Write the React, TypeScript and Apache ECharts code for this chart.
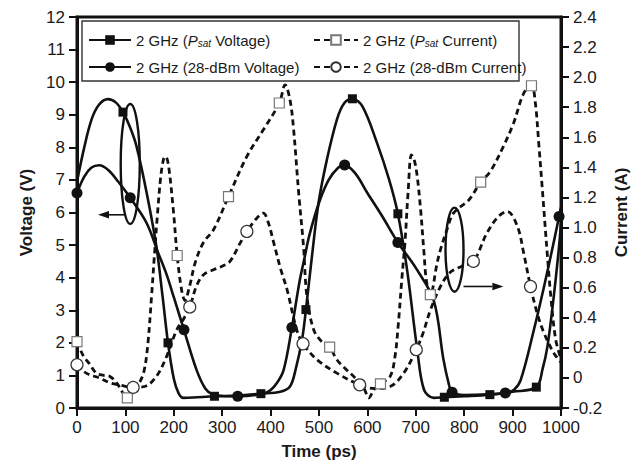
import React, { useEffect, useRef } from 'react';
import * as echarts from 'echarts';

const FONT = "'Liberation Sans', Arial, Helvetica, sans-serif";
const INK = '#111';

// ---- axis ticks ----
const timeTicks = { min: 0, max: 1000, interval: 100 };
const voltTicks = { min: 0, max: 12, interval: 1 };
const currTicks = { min: -0.2, max: 2.4, interval: 0.2 };

// ---- series names ----
const nPsatV = '2 GHz (Psat Voltage)';
const n28V = '2 GHz (28-dBm Voltage)';
const nPsatI = '2 GHz (Psat Current)';
const n28I = '2 GHz (28-dBm Current)';

// ---- Psat voltage (V) ----
const psatVoltageT = [0, 15, 30, 45, 64, 80, 95, 110, 123, 144, 164, 177, 188, 200, 210, 220, 240, 284, 330, 380, 420, 440, 452, 465, 473, 485, 499, 516, 537, 552, 569, 590, 620, 645, 663, 682, 703, 717, 737, 759, 800, 853, 900, 949, 962, 972, 985, 996, 1000];
const psatVoltage = [6.95, 8.0, 8.85, 9.3, 9.48, 9.38, 9.08, 8.6, 8.03, 6.6, 4.96, 3.4, 2.0, 0.9, 0.45, 0.31, 0.32, 0.36, 0.38, 0.44, 0.5, 0.66, 1.2, 2.1, 3.02, 4.6, 6.29, 7.6, 8.85, 9.35, 9.49, 9.25, 8.13, 7.0, 5.96, 4.24, 1.79, 0.56, 0.31, 0.33, 0.36, 0.41, 0.5, 0.64, 1.2, 1.89, 3.42, 4.96, 5.7];
const psatVoltageMarkT = [95, 188, 284, 380, 473, 569, 663, 759, 853, 949];
const psatVoltageMark = [9.08, 2.0, 0.36, 0.44, 3.02, 9.49, 5.96, 0.33, 0.41, 0.64];

// ---- 28-dBm voltage (V) ----
const dbm28VoltageT = [0, 15, 30, 46, 65, 85, 110, 144, 168, 185, 200, 221, 247, 265, 280, 300, 332, 370, 395, 413, 427, 444, 460, 470, 480, 500, 520, 540, 553, 575, 600, 630, 663, 700, 737, 757, 768, 775, 800, 850, 885, 903, 917, 944, 965, 986, 996, 1000];
const dbm28Voltage = [6.6, 7.1, 7.38, 7.45, 7.3, 6.95, 6.45, 5.67, 4.75, 4.1, 3.4, 2.4, 1.17, 0.6, 0.42, 0.37, 0.36, 0.4, 0.5, 0.77, 1.17, 2.47, 3.9, 4.6, 5.3, 6.3, 7.0, 7.38, 7.46, 7.2, 6.6, 5.9, 5.08, 4.3, 3.3, 1.5, 0.75, 0.48, 0.4, 0.42, 0.46, 0.56, 0.87, 2.4, 3.73, 5.16, 5.88, 6.15];
const dbm28VoltageMarkT = [0, 110, 221, 332, 444, 553, 663, 775, 885, 996];
const dbm28VoltageMark = [6.6, 6.45, 2.4, 0.36, 2.47, 7.46, 5.08, 0.48, 0.46, 5.88];

// ---- Psat current (A) ----
const psatCurrentT = [0, 13, 26, 40, 55, 68, 82, 95, 104, 115, 128, 138, 146, 154, 160, 166, 173, 179, 183, 189, 199, 207, 216, 223, 232, 245, 262, 282, 313, 351, 385, 418, 430, 440, 447, 458, 468, 475, 489, 505, 522, 537, 555, 575, 593, 603, 613, 627, 647, 657, 664, 671, 678, 684, 691, 697, 703, 710, 717, 722, 730, 744, 751, 765, 778, 810, 834, 854, 881, 902, 923, 939, 947, 954, 961, 972, 979, 989, 1000];
const psatCurrent = [0.242, 0.147, 0.093, 0.032, 0.017, 0.010, -0.033, -0.100, -0.133, -0.103, -0.038, 0.038, 0.212, 0.541, 0.818, 1.078, 1.338, 1.457, 1.473, 1.414, 1.117, 0.814, 0.587, 0.515, 0.602, 0.775, 0.905, 0.985, 1.206, 1.473, 1.650, 1.828, 1.949, 1.850, 1.672, 1.230, 0.875, 0.541, 0.320, 0.244, 0.205, 0.121, 0.060, -0.001, -0.070, -0.133, -0.081, -0.039, 0.010, 0.142, 0.363, 0.652, 0.918, 1.230, 1.483, 1.447, 1.338, 1.117, 0.829, 0.645, 0.554, 0.764, 0.853, 0.992, 1.096, 1.185, 1.302, 1.373, 1.540, 1.694, 1.893, 1.943, 1.828, 1.561, 1.273, 0.808, 0.541, 0.255, 0.125];
const psatCurrentMarkT = [0, 104, 207, 313, 418, 522, 627, 730, 834, 939];
const psatCurrentMark = [0.242, -0.133, 0.814, 1.206, 1.828, 0.205, -0.039, 0.554, 1.302, 1.943];

// ---- 28-dBm current (A) ----
const dbm28CurrentT = [0, 19, 47, 68, 90, 116, 140, 164, 185, 206, 219, 233, 247, 262, 282, 300, 316, 337, 351, 370, 385, 395, 406, 420, 434, 454, 467, 496, 537, 584, 615, 647, 675, 701, 715, 730, 750, 770, 795, 819, 847, 871, 889, 910, 923, 937, 951, 965, 985, 1000];
const dbm28Current = [0.088, 0.032, -0.001, -0.033, -0.048, -0.063, -0.057, 0.010, 0.142, 0.320, 0.385, 0.472, 0.613, 0.688, 0.719, 0.743, 0.775, 0.896, 0.974, 1.057, 1.096, 1.035, 0.905, 0.732, 0.587, 0.320, 0.227, 0.121, 0.032, -0.046, -0.070, -0.057, 0.032, 0.188, 0.298, 0.450, 0.602, 0.699, 0.743, 0.775, 0.964, 1.074, 1.107, 1.007, 0.829, 0.608, 0.428, 0.298, 0.166, 0.103];
const dbm28CurrentMarkT = [0, 116, 233, 351, 467, 584, 701, 819, 937];
const dbm28CurrentMark = [0.088, -0.063, 0.472, 0.974, 0.227, -0.046, 0.188, 0.775, 0.608];

// ---- annotations (data units: ps, V) ----
const ellipseLeft = { t: 110, v: 7.49, dt: 19.7, dv: 1.84 };
const ellipseRight = { t: 780, v: 4.86, dt: 18.6, dv: 1.29 };
const arrowLeft = { t0: 98.7, t1: 43.4, v: 5.93 };
const arrowRight = { t0: 798.6, t1: 881, v: 3.73 };

const zip = (xs: number[], ys: number[]) => xs.map((x, i) => [x, ys[i]]);

const solid = { color: INK, width: 2.6, type: 'solid' as const };
const dashed = { color: INK, width: 2.8, type: [6, 4] as any };

function lineSeries(name: string, xs: number[], ys: number[], yAxisIndex: number, lineStyle: any, symbol: string, itemStyle: any) {
  return {
    name,
    type: 'line',
    yAxisIndex,
    data: zip(xs, ys),
    smooth: 0.35,
    showSymbol: false,
    symbol,
    lineStyle,
    itemStyle,
    z: 2,
    silent: true,
  };
}

function markerSeries(name: string, xs: number[], ys: number[], yAxisIndex: number, symbol: string, size: number, itemStyle: any) {
  return {
    name,
    type: 'scatter',
    yAxisIndex,
    data: zip(xs, ys),
    symbol,
    symbolSize: size,
    itemStyle,
    z: 4,
    silent: true,
  };
}

const filled = { color: INK, borderColor: INK, borderWidth: 0, opacity: 1 };
const openSquare = { color: '#fff', borderColor: '#777', borderWidth: 1.2, opacity: 1 };
const openCircle = { color: '#fff', borderColor: '#333', borderWidth: 1.2, opacity: 1 };

const legendText = {
  fontFamily: FONT,
  fontSize: 15,
  color: '#1a1a1a',
  lineHeight: 20,
  rich: {
    i: { fontFamily: FONT, fontSize: 15, fontStyle: 'italic', color: '#1a1a1a', lineHeight: 20 },
    s: { fontFamily: FONT, fontSize: 10, fontStyle: 'italic', color: '#1a1a1a', padding: [7, 0, 0, 0] },
  },
};
const legendFormatter = (name: string) => name.replace('Psat', '{i|P}{s|sat}');

const labelStyle = { fontFamily: FONT, fontSize: 17, color: '#1a1a1a' };
const nameStyle = { fontFamily: FONT, fontSize: 17, fontWeight: 'bold' as const, color: '#1a1a1a' };
const axisLine = { show: true, lineStyle: { color: INK, width: 3 } };
const axisTick = { show: true, length: 8, lineStyle: { color: INK, width: 2 } };

const option: any = {
  animation: false,
  backgroundColor: '#fff',
  grid: { left: 77, right: 83, top: 17, bottom: 62, show: true, borderColor: INK, borderWidth: 3, backgroundColor: 'transparent' },
  legend: [
    {
      data: [nPsatV, n28V], orient: 'vertical', left: 83, top: 25, itemWidth: 42, itemHeight: 12, itemGap: 7,
      selectedMode: false, textStyle: legendText, formatter: legendFormatter,
    },
    {
      data: [nPsatI, n28I], orient: 'vertical', left: 308, top: 25, itemWidth: 44, itemHeight: 12, itemGap: 7,
      selectedMode: false, textStyle: legendText, formatter: legendFormatter,
    },
  ],
  xAxis: {
    type: 'value', ...timeTicks,
    name: 'Time (ps)', nameLocation: 'middle', nameGap: 35, nameTextStyle: nameStyle,
    axisLine, axisTick, axisLabel: { ...labelStyle, margin: 11, formatter: (v: number) => String(v) }, splitLine: { show: false },
  },
  yAxis: [
    {
      type: 'value', ...voltTicks, position: 'left',
      name: 'Voltage (V)', nameLocation: 'middle', nameGap: 42, nameTextStyle: nameStyle,
      axisLine, axisTick, axisLabel: { ...labelStyle, margin: 12 }, splitLine: { show: false },
    },
    {
      type: 'value', ...currTicks, position: 'right',
      name: 'Current (A)', nameLocation: 'middle', nameGap: 52, nameTextStyle: nameStyle,
      axisLine, axisTick,
      axisLabel: { ...labelStyle, margin: 12, formatter: (v: number) => (Math.abs(v) < 1e-9 ? '0' : v.toFixed(1)) },
      splitLine: { show: false },
    },
  ],
  series: [
    lineSeries(nPsatV, psatVoltageT, psatVoltage, 0, solid, 'rect', filled),
    lineSeries(n28V, dbm28VoltageT, dbm28Voltage, 0, solid, 'circle', filled),
    lineSeries(nPsatI, psatCurrentT, psatCurrent, 1, dashed, 'rect', openSquare),
    lineSeries(n28I, dbm28CurrentT, dbm28Current, 1, dashed, 'circle', openCircle),
    markerSeries('mPsatV', psatVoltageMarkT, psatVoltageMark, 0, 'rect', 9, filled),
    markerSeries('m28V', dbm28VoltageMarkT, dbm28VoltageMark, 0, 'circle', 11, filled),
    markerSeries('mPsatI', psatCurrentMarkT, psatCurrentMark, 1, 'rect', 10, openSquare),
    markerSeries('m28I', dbm28CurrentMarkT, dbm28CurrentMark, 1, 'circle', 12, openCircle),
  ],
};

export default function App() {
  const ref = useRef<HTMLDivElement>(null);
  useEffect(() => {
    const chart = echarts.init(ref.current!, null, { renderer: 'svg' });
    chart.setOption(option);
    const px = (t: number, v: number) => chart.convertToPixel({ xAxisIndex: 0, yAxisIndex: 0 }, [t, v]) as number[];
    const ell = (e: { t: number; v: number; dt: number; dv: number }) => {
      const c = px(e.t, e.v);
      const r = px(e.t + e.dt, e.v + e.dv);
      return {
        type: 'ellipse', silent: true, z: 10,
        shape: { cx: c[0], cy: c[1], rx: Math.abs(r[0] - c[0]), ry: Math.abs(c[1] - r[1]) },
        style: { fill: 'none', stroke: INK, lineWidth: 2.4 },
      };
    };
    const arrow = (a: { t0: number; t1: number; v: number }) => {
      const s = px(a.t0, a.v);
      const e = px(a.t1, a.v);
      const dir = Math.sign(e[0] - s[0]);
      const base = e[0] - dir * 11;
      return [
        { type: 'line', silent: true, z: 10, shape: { x1: s[0], y1: s[1], x2: base, y2: e[1] }, style: { stroke: INK, lineWidth: 1.6 } },
        { type: 'polygon', silent: true, z: 10, shape: { points: [[e[0], e[1]], [base, e[1] - 3.8], [base, e[1] + 3.8]] }, style: { fill: INK } },
      ];
    };
    chart.setOption({
      graphic: [
        { type: 'rect', silent: true, z: 1, shape: { x: 82, y: 21, width: 437, height: 60 }, style: { fill: 'none', stroke: '#333', lineWidth: 1.4 } },
        ell(ellipseLeft),
        ell(ellipseRight),
        ...arrow(arrowLeft),
        ...arrow(arrowRight),
      ],
    });
    return () => chart.dispose();
  }, []);
  return <div ref={ref} style={{ position: 'absolute', left: 0, top: 0, width: 644, height: 470 }} />;
}
